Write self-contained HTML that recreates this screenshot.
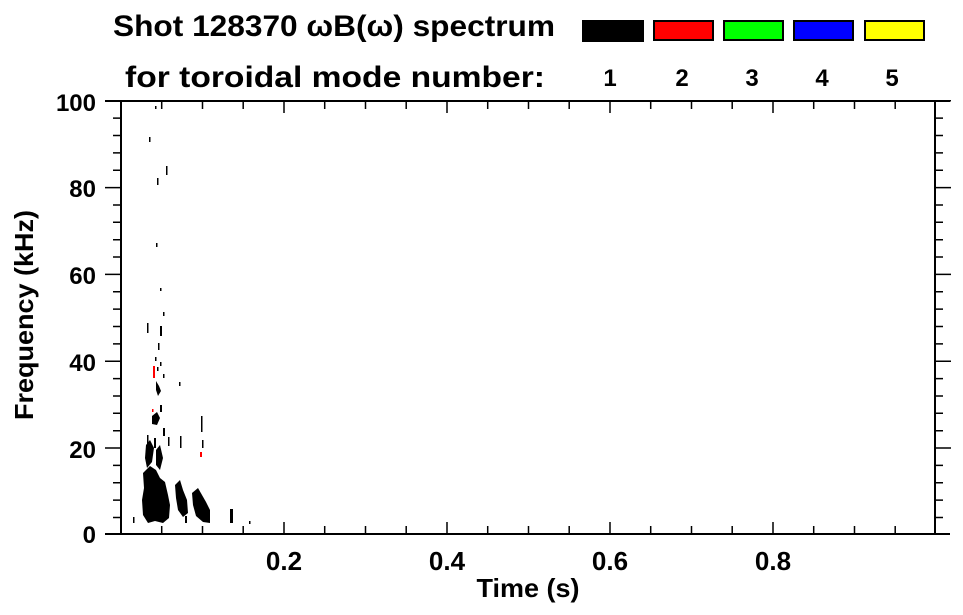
<!DOCTYPE html>
<html><head><meta charset="utf-8"><style>
body{margin:0;background:#fff}
svg{display:block}
text{font-family:"Liberation Sans",sans-serif;font-weight:bold;fill:#000}
</style></head><body>
<svg width="963" height="615" viewBox="0 0 963 615" xmlns="http://www.w3.org/2000/svg">
<text x="113" y="36" font-size="30" textLength="442" lengthAdjust="spacingAndGlyphs">Shot 128370 ωB(ω) spectrum</text>
<text x="125" y="87" font-size="30" textLength="420" lengthAdjust="spacingAndGlyphs">for toroidal mode number:</text>
<g stroke="#000" stroke-width="2">
<rect x="583" y="21" width="60" height="20" fill="#000"/>
<rect x="654" y="21" width="59" height="19" fill="#f00"/>
<rect x="724" y="21" width="59" height="19" fill="#0f0"/>
<rect x="794" y="21" width="59" height="19" fill="#00f"/>
<rect x="865" y="21" width="59" height="19" fill="#ff0"/>
</g>
<g font-size="24" text-anchor="middle">
<text x="610" y="86">1</text><text x="682" y="86">2</text><text x="752" y="86">3</text><text x="822" y="86">4</text><text x="892" y="86">5</text>
</g>
<g fill="#000">
<path d="M143,473 L150,466 L156,470 L160,478 L165,482 L168,495 L170,505 L169,518 L163,523 L155,521 L148,523 L143,515 L142,500 L144,488 Z"/>
<path d="M146,445 L150,440 L154,448 L152,462 L147,468 L145,458 Z"/>
<path d="M156,450 L160,445 L163,458 L160,470 L156,465 Z"/>
<path d="M175,485 L180,480 L183,490 L187,500 L188,513 L183,517 L178,510 L176,498 Z"/>
<path d="M192,493 L198,488 L202,495 L206,502 L210,510 L210,523 L203,522 L196,516 L193,505 Z"/>
<path d="M156,381 L159,386 L161,391 L158,396 L156,390 Z"/>
<path d="M152,416 L157,412 L160,418 L157,425 L152,424 Z"/>
<rect x="230" y="509" width="3" height="14"/>
<rect x="201" y="416" width="1.5" height="16"/>
<rect x="163" y="428" width="2" height="8"/>
<rect x="147" y="435" width="1.5" height="10"/>
<rect x="154" y="438" width="2" height="10"/>
<rect x="168" y="437" width="1.5" height="9"/>
<rect x="180" y="436" width="1.5" height="12"/>
<rect x="202" y="440" width="1.5" height="8"/>
<rect x="179" y="382" width="1.5" height="4"/>
<rect x="158" y="343" width="1.5" height="7"/>
<rect x="155" y="357" width="1.5" height="4"/>
<rect x="160" y="362" width="1.5" height="4"/>
<rect x="157" y="367" width="1.5" height="4"/>
<rect x="163" y="374" width="1.5" height="4"/>
<rect x="160" y="405" width="2" height="7"/>
<rect x="155" y="106" width="1.5" height="3"/>
<rect x="149" y="137" width="1.5" height="5"/>
<rect x="166" y="166" width="1.5" height="9"/>
<rect x="157" y="178" width="1.5" height="7"/>
<rect x="156" y="243" width="1.5" height="4"/>
<rect x="160" y="288" width="1.5" height="3"/>
<rect x="163" y="312" width="1.5" height="4"/>
<rect x="147" y="323" width="1.5" height="10"/>
<rect x="160" y="326" width="2" height="10"/>
<rect x="133" y="517" width="1.5" height="6"/>
<rect x="249" y="521" width="1.5" height="3"/>
<rect x="185" y="516" width="2" height="7"/>
</g>
<g fill="#f00">
<rect x="153" y="366" width="2" height="12"/>
<rect x="200" y="452" width="2" height="5"/>
<rect x="152" y="409" width="1.5" height="3"/>
</g>
<g stroke="#000" stroke-width="2" fill="none">
<line x1="105" y1="101" x2="950" y2="101"/>
<line x1="105" y1="534" x2="950" y2="534"/>
<line x1="121" y1="100" x2="121" y2="535"/>
<line x1="935" y1="100" x2="935" y2="535"/>
</g>
<g stroke="#000" stroke-width="1.5">
<path d="M121,100.8h-16M121,118.1h-8M121,135.5h-8M121,152.9h-8M121,170.2h-8M121,187.6h-16M121,205h-8M121,222.3h-8M121,239.7h-8M121,257h-8M121,274.4h-16M121,291.8h-8M121,309.1h-8M121,326.5h-8M121,343.9h-8M121,361.2h-16M121,378.6h-8M121,396h-8M121,413.3h-8M121,430.7h-8M121,448h-16M121,465.4h-8M121,482.8h-8M121,500.1h-8M121,517.5h-8"/>
<path d="M935,100.8h16M935,118.1h8M935,135.5h8M935,152.9h8M935,170.2h8M935,187.6h16M935,205h8M935,222.3h8M935,239.7h8M935,257h8M935,274.4h16M935,291.8h8M935,309.1h8M935,326.5h8M935,343.9h8M935,361.2h16M935,378.6h8M935,396h8M935,413.3h8M935,430.7h8M935,448h16M935,465.4h8M935,482.8h8M935,500.1h8M935,517.5h8"/>
<path d="M161.7,534v-8M202.5,534v-8M243.2,534v-8M284,534v-12M324.7,534v-8M365.5,534v-8M406.2,534v-8M447,534v-12M487.7,534v-8M528.5,534v-8M569.2,534v-8M610,534v-12M650.7,534v-8M691.5,534v-8M732.2,534v-8M773,534v-12M813.7,534v-8M854.5,534v-8M895.2,534v-8"/>
<path d="M161.7,101v8M202.5,101v8M243.2,101v8M284,101v12M324.7,101v8M365.5,101v8M406.2,101v8M447,101v12M487.7,101v8M528.5,101v8M569.2,101v8M610,101v12M650.7,101v8M691.5,101v8M732.2,101v8M773,101v12M813.7,101v8M854.5,101v8M895.2,101v8"/>
</g>
<g font-size="24" text-anchor="end">
<text x="96" y="111">100</text><text x="96" y="197">80</text><text x="96" y="284">60</text><text x="96" y="371">40</text><text x="96" y="458">20</text><text x="96" y="543">0</text>
</g>
<g font-size="26" text-anchor="middle">
<text x="284" y="570">0.2</text><text x="447" y="570">0.4</text><text x="610" y="570">0.6</text><text x="773" y="570">0.8</text>
<text x="528" y="597" textLength="103" lengthAdjust="spacingAndGlyphs">Time (s)</text>
</g>
<text transform="translate(33,315) rotate(-90)" font-size="26" text-anchor="middle" textLength="210" lengthAdjust="spacingAndGlyphs">Frequency (kHz)</text>
</svg>
</body></html>
